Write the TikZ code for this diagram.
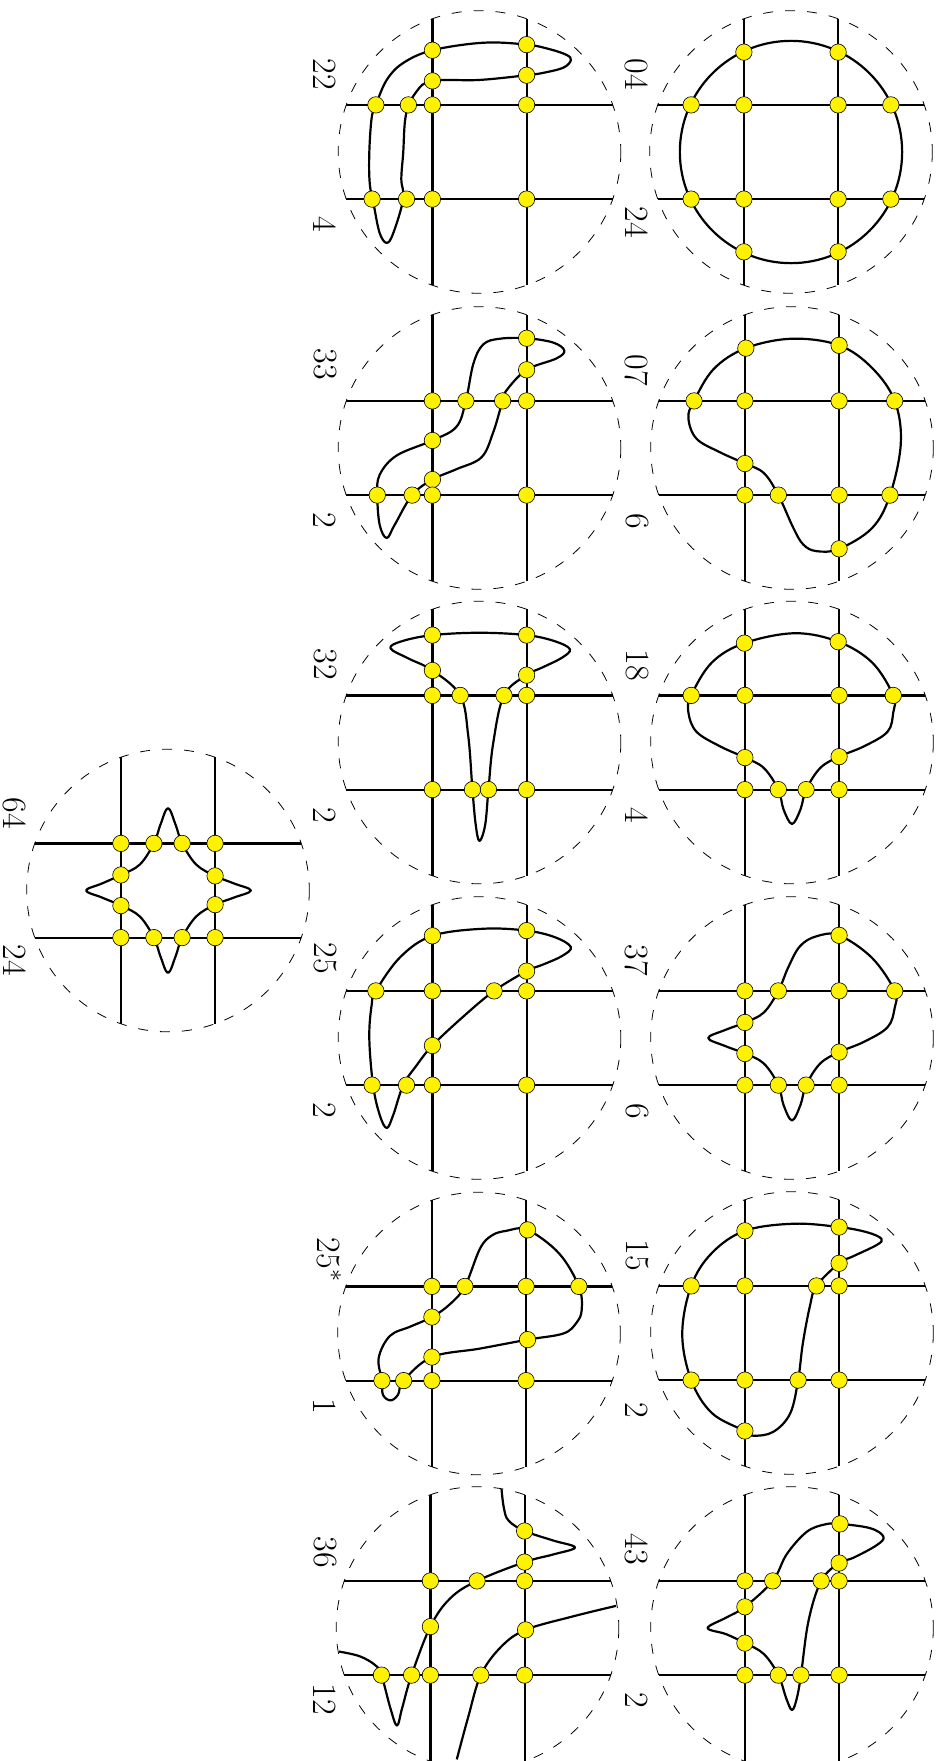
\documentclass[tikz,border=0pt]{standalone}
\usepackage{tikz}
\newcommand{\panelgrid}{%
  \draw[rim] (0,0) circle[radius=3];
  \foreach \u in {-1,1} {
    \draw[wire] (\u,-2.83) -- (\u,2.83);
    \draw[wire] (-2.83,\u) -- (2.83,\u);
  }
}
\newcommand{\crossings}[2]{%
  \foreach \p [count=\i] in {#2} \node[crossing] (#1-\i) at \p {};
}
\begin{document}
\begin{tikzpicture}[
  x=0.5pt,y=-0.5pt,
  panel/.style={x=23.55pt,y=-23.55pt},
  rim/.style={line width=0.4pt,dash pattern=on 5pt off 6pt},
  wire/.style={line width=1.1pt},
  loopline/.style={line width=1.1pt,line join=round},
  crossing/.style={circle,draw=black,fill=yellow,line width=0.3pt,inner sep=0pt,minimum size=8.2pt},
  tag/.style={rotate=-90,inner sep=0pt,font=\fontsize{17}{20}\selectfont}
]
  \path[use as bounding box,clip] (0,0) rectangle (939,1761);

  % Labels, right column
  \node[tag] (t04) at (637,74) {04};
  \node[tag] (t24) at (637,222) {24};
  \node[tag] (t07) at (637,370) {07};
  \node[tag] (t6a) at (637,521) {6};
  \node[tag] (t18) at (637,665) {18};
  \node[tag] (t4a) at (637,815) {4};
  \node[tag] (t37) at (637,960) {37};
  \node[tag] (t6b) at (637,1111) {6};
  \node[tag] (t15) at (637,1255) {15};
  \node[tag] (t2a) at (637,1410) {2};
  \node[tag] (t43) at (637,1549) {43};
  \node[tag] (t2b) at (637,1700) {2};

  % Labels, middle column
  \node[tag] (t22) at (325,74) {22};
  \node[tag] (t4b) at (325,224) {4};
  \node[tag] (t33) at (325,364) {33};
  \node[tag] (t2c) at (325,520) {2};
  \node[tag] (t32) at (325,664) {32};
  \node[tag] (t2d) at (325,815) {2};
  \node[tag] (t25) at (325,958) {25};
  \node[tag] (t2e) at (325,1110) {2};
  \node[tag] (t25s) at (329,1260) {25$^*$};
  \node[tag] (t1) at (325,1406) {1};
  \node[tag] (t36) at (325,1552) {36};
  \node[tag] (t12) at (325,1699) {12};

  % Labels, last panel
  \node[tag] (t64) at (15,813) {64};
  \node[tag] (t24b) at (15,960) {24};

  % 04
  \begin{scope}[shift={(791,152)},panel]
    \panelgrid
    \draw[loopline] (0,0) circle[radius=2.36];
    \crossings{a}{(-1,-2.12),(1,-2.12),(-2.12,-1),(-1,-1),(1,-1),(2.12,-1),
      (-2.12,1),(-1,1),(1,1),(2.12,1),(-1,2.12),(1,2.12)}
  \end{scope}

  % 07
  \begin{scope}[shift={(792,448)},panel]
    \panelgrid
    \draw[loopline] plot[smooth cycle,tension=0.6] coordinates {
      (-2.08,-1) (-1.66,-1.68) (-0.98,-2.12) (0,-2.32) (1,-2.18) (1.7,-1.7) (2.18,-1)
      (2.31,-0.1) (2.08,1) (1.7,1.7) (1,2.14) (0.52,2.19) (0.24,2.05) (0.03,1.7)
      (-0.29,1) (-0.6,0.53) (-1,0.33) (-1.53,0.09) (-2.03,-0.2) (-2.2,-0.64)};
    \crossings{b}{(-0.98,-2.12),(1,-2.18),(-2.08,-1),(-1,-1),(1,-1),(2.18,-1),
      (-1,0.33),(-1,1),(-0.29,1),(1,1),(2.08,1),(1,2.14)}
  \end{scope}

  % 18
  \begin{scope}[shift={(792,742.5)},panel]
    \panelgrid
    \draw[loopline] plot[smooth cycle,tension=0.6] coordinates {
      (-2.14,-1) (-1.7,-1.7) (-1.01,-2.11) (0.06,-2.32) (0.98,-2.14) (1.7,-1.7) (2.15,-1)
      (2.15,-0.64) (2.03,-0.23) (1.53,0.08) (1,0.3) (0.6,0.54) (0.3,1) (0.18,1.42) (0,1.73)
      (-0.18,1.42) (-0.29,1) (-0.6,0.54) (-1,0.32) (-1.53,0.08) (-2.03,-0.23) (-2.2,-0.64)};
    \crossings{c}{(-1.01,-2.11),(0.98,-2.14),(-2.14,-1),(-1,-1),(1,-1),(2.15,-1),
      (-1,0.32),(1,0.3),(-1,1),(-0.29,1),(0.3,1),(1,1)}
  \end{scope}

  % 37
  \begin{scope}[shift={(792,1038)},panel]
    \panelgrid
    \draw[loopline] plot[smooth cycle,tension=0.6] coordinates {
      (1,-2.18) (1.7,-1.7) (2.18,-1) (2.18,-0.64) (2.03,-0.23) (1.53,0.08) (1,0.3) (0.6,0.54)
      (0.3,1) (0.18,1.42) (0,1.75) (-0.18,1.42) (-0.29,1) (-0.6,0.54) (-1,0.33) (-1.42,0.17)
      (-1.78,0) (-1.42,-0.17) (-1,-0.33) (-0.6,-0.54) (-0.29,-1) (-0.08,-1.5) (0.17,-1.95)
      (0.52,-2.16)};
    \crossings{d}{(1,-2.18),(-1,-1),(-0.29,-1),(1,-1),(2.18,-1),(-1,-0.33),
      (-1,0.33),(1,0.3),(-1,1),(-0.29,1),(0.3,1),(1,1)}
  \end{scope}

  % 15
  \begin{scope}[shift={(792,1333)},panel]
    \panelgrid
    \draw[loopline] plot[smooth cycle,tension=0.6] coordinates {
      (-2.14,-1) (-1.7,-1.7) (-1,-2.17) (0.03,-2.32) (1,-2.25) (1.59,-2.14) (1.9,-2)
      (1.8,-1.87) (1.3,-1.63) (1,-1.48) (0.52,-1) (0.38,-0.57) (0.23,0.22) (0.13,1)
      (-0.04,1.71) (-0.4,2.1) (-0.82,2.18) (-1,2.08) (-1.7,1.7) (-2.14,1) (-2.33,0.02)};
    \crossings{e}{(-1,-2.17),(1,-2.25),(1,-1.48),(-2.14,-1),(-1,-1),(0.52,-1),(1,-1),
      (-2.14,1),(-1,1),(0.13,1),(1,1),(-1,2.08)}
  \end{scope}

  % 43
  \begin{scope}[shift={(792,1628)},panel]
    \panelgrid
    \draw[loopline] plot[smooth cycle,tension=0.6] coordinates {
      (1.02,-2.21) (1.66,-2.12) (1.94,-1.94) (1.8,-1.76) (1.3,-1.49) (1,-1.38) (0.62,-1)
      (0.35,-0.15) (0.19,1) (0.1,1.5) (0,1.74) (-0.12,1.5) (-0.29,1) (-0.6,0.55) (-1,0.32)
      (-1.4,0.13) (-1.79,0) (-1.4,-0.22) (-1,-0.45) (-0.41,-1) (-0.11,-1.57) (0.31,-2.04)
      (0.7,-2.2)};
    \crossings{f}{(1.02,-2.21),(1,-1.38),(-1,-1),(-0.41,-1),(0.62,-1),(1,-1),
      (-1,-0.45),(-1,0.32),(-1,1),(-0.29,1),(0.19,1),(1,1)}
  \end{scope}

  % 22
  \begin{scope}[shift={(479.5,152)},panel]
    \panelgrid
    \draw[loopline] plot[smooth cycle,tension=0.6] coordinates {
      (-2.2,-1) (-1.97,-1.53) (-1.62,-1.89) (-1,-2.16) (0.08,-2.32) (1,-2.28) (1.5,-2.18)
      (1.85,-2.06) (1.94,-1.95) (1.78,-1.79) (1.35,-1.68) (1,-1.63) (0,-1.53) (-1,-1.51)
      (-1.34,-1.28) (-1.56,-0.8) (-1.62,0.02) (-1.66,0.58) (-1.62,1) (-1.83,1.72) (-1.97,1.93)
      (-2.12,1.72) (-2.24,1.15) (-2.33,0.67) (-2.34,0.02) (-2.29,-0.72)};
    \crossings{g}{(-1,-2.16),(1,-2.28),(1,-1.63),(-1,-1.51),(-2.2,-1),(-1.51,-1),(-1,-1),
      (1,-1),(-2.28,1),(-1.55,1),(-1,1),(1,1)}
  \end{scope}

  % 33
  \begin{scope}[shift={(479.5,448)},panel]
    \panelgrid
    \draw[loopline] plot[smooth cycle,tension=0.6] coordinates {
      (1,-2.33) (1.56,-2.24) (1.8,-2.07) (1.63,-1.9) (1,-1.66) (0.57,-1.22) (0.49,-1)
      (0.29,-0.33) (0.04,0.2) (-0.49,0.45) (-1,0.67) (-1.43,1) (-1.8,1.63) (-1.97,1.91)
      (-2.12,1.63) (-2.17,1) (-2.12,0.57) (-1.76,0.16) (-1,-0.16) (-0.49,-0.45) (-0.29,-1)
      (-0.13,-1.79) (0.08,-2.2) (0.43,-2.32)};
    \crossings{h}{(1,-2.33),(1,-1.66),(-1,-1),(-0.29,-1),(0.49,-1),(1,-1),(-1,-0.16),
      (-1,0.67),(-2.17,1),(-1.43,1),(-1,1),(1,1)}
  \end{scope}

  % 32
  \begin{scope}[shift={(479.5,742.5)},panel]
    \panelgrid
    \draw[loopline] plot[smooth cycle,tension=0.6] coordinates {
      (-1,-2.28) (0,-2.33) (1,-2.28) (1.6,-2.15) (1.92,-1.98) (1.75,-1.8) (1.35,-1.6) (1,-1.43)
      (0.52,-1) (0.29,0.02) (0.19,1) (0.12,1.75) (0,2.09) (-0.08,1.75) (-0.15,1) (-0.24,-0.15)
      (-0.41,-1) (-1,-1.53) (-1.5,-1.78) (-1.89,-2) (-1.65,-2.15)};
    \crossings{i}{(-1,-2.28),(1,-2.28),(-1,-1.53),(1,-1.43),(-1,-1),(-0.41,-1),(0.52,-1),
      (1,-1),(-1,1),(-0.15,1),(0.19,1),(1,1)}
  \end{scope}

  % 25
  \begin{scope}[shift={(479.5,1038)},panel]
    \panelgrid
    \draw[loopline] plot[smooth cycle,tension=0.6] coordinates {
      (-2.2,-1) (-1.68,-1.72) (-1,-2.17) (0.08,-2.32) (1,-2.28) (1.6,-2.14) (1.94,-1.93)
      (1.75,-1.74) (1.35,-1.56) (1,-1.42) (0.31,-1) (-0.35,-0.45) (-1,0.16) (-1.35,0.6)
      (-1.62,1) (-1.83,1.63) (-1.97,1.91) (-2.12,1.63) (-2.26,1) (-2.34,0) (-2.29,-0.7)};
    \crossings{j}{(-1,-2.17),(1,-2.28),(1,-1.42),(-2.2,-1),(-1,-1),(0.31,-1),(1,-1),
      (-1,0.16),(-2.28,1),(-1.55,1),(-1,1),(1,1)}
  \end{scope}

  % 25*
  \begin{scope}[shift={(479,1333.5)},panel]
    \panelgrid
    \draw[loopline] plot[smooth cycle,tension=0.6] coordinates {
      (1.03,-2.2) (1.7,-1.7) (2.12,-1) (2.18,-0.5) (2.07,-0.23) (1.79,0) (1.03,0.13) (0.02,0.32)
      (-1,0.5) (-1.6,1) (-1.72,1.3) (-1.88,1.42) (-2.04,1.3) (-2.06,1) (-2.13,0.52) (-1.89,0.05)
      (-1.45,-0.15) (-1,-0.35) (-0.62,-0.62) (-0.3,-1) (0.02,-1.8) (0.27,-2.08) (0.58,-2.18)};
    \crossings{k}{(1.03,-2.2),(-1,-1),(-0.3,-1),(1,-1),(2.12,-1),(-1,-0.35),(-1,0.5),
      (1.03,0.13),(-2.06,1),(-1.6,1),(-1,1),(1,1)}
  \end{scope}

  % 36
  \begin{scope}[shift={(477.5,1628)},panel]
    \panelgrid
    \draw[loopline] plot[smooth,tension=0.6] coordinates {
      (0.51,-2.95) (0.56,-2.55) (0.66,-2.28) (1,-2.06) (1.6,-1.86) (2.07,-1.71) (1.6,-1.56)
      (1,-1.4) (-0.01,-1) (-0.58,-0.63) (-1,-0.03) (-1.4,1) (-1.6,1.7) (-1.71,2.07) (-1.85,1.7)
      (-2.04,1) (-2.17,0.79) (-2.5,0.6) (-2.94,0.5)};
    \draw[loopline] plot[smooth,tension=0.6] coordinates {
      (2.94,-0.47) (2,-0.24) (1.02,0.04) (0.5,0.4) (0.07,1) (-0.2,1.9) (-0.44,2.79)};
    \crossings{l}{(1,-2.06),(1,-1.4),(-1,-1),(-0.01,-1),(1,-1),(-1,-0.03),(1.02,0.04),
      (-2.04,1),(-1.4,1),(-1,1),(0.07,1),(1,1)}
  \end{scope}

  % 64
  \begin{scope}[shift={(168,890.5)},panel]
    \panelgrid
    \draw[loopline] plot[smooth cycle,tension=0.6] coordinates {
      (0,-1.75) (0.16,-1.4) (0.3,-1) (0.6,-0.55) (1,-0.31) (1.4,-0.15) (1.76,0) (1.4,0.15)
      (1,0.3) (0.6,0.55) (0.3,1) (0.16,1.4) (0,1.75) (-0.16,1.4) (-0.3,1) (-0.6,0.55) (-1,0.32)
      (-1.4,0.15) (-1.74,0) (-1.4,-0.15) (-1,-0.33) (-0.6,-0.55) (-0.3,-1) (-0.16,-1.4)};
    \crossings{m}{(-1,-1),(-0.3,-1),(0.3,-1),(1,-1),(-1,-0.33),(1,-0.31),(-1,0.32),
      (1,0.3),(-1,1),(-0.3,1),(0.3,1),(1,1)}
  \end{scope}
\end{tikzpicture}
\end{document}
